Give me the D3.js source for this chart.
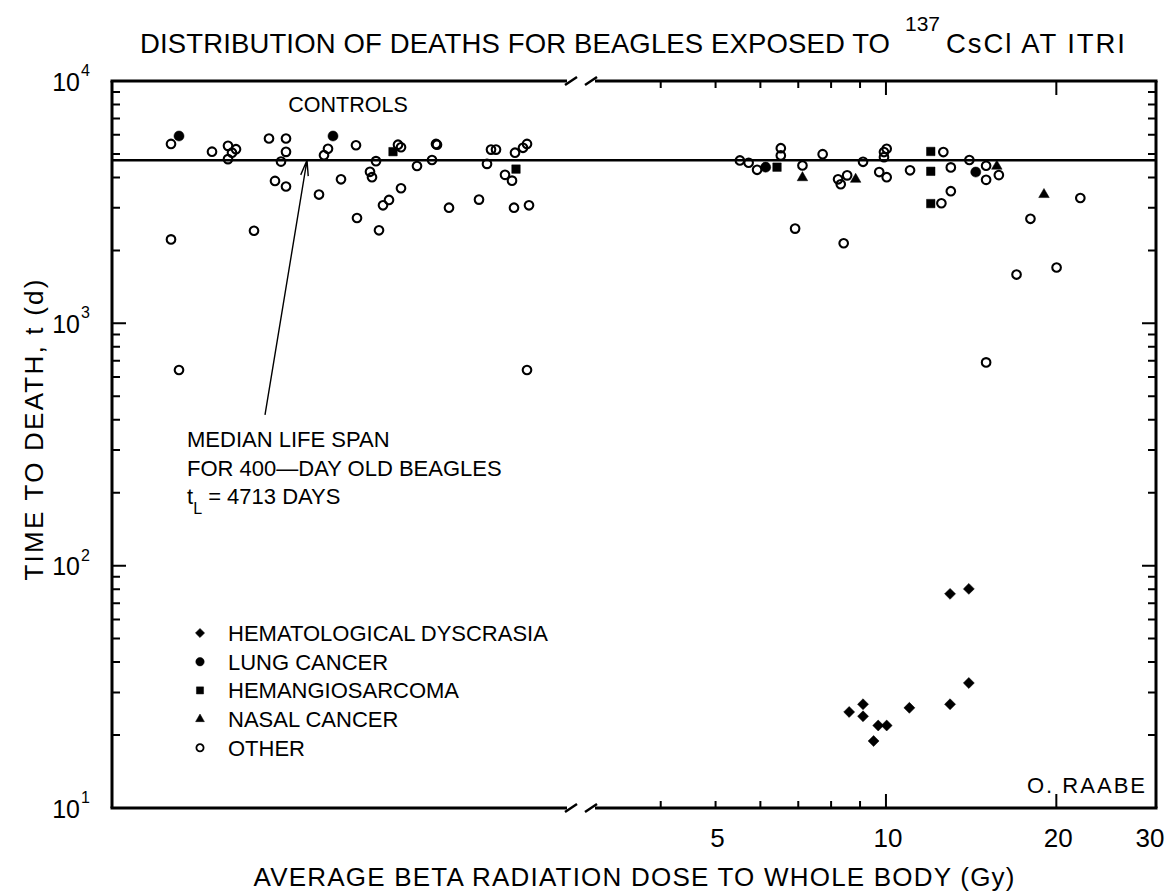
<!DOCTYPE html>
<html>
<head>
<meta charset="utf-8">
<script src="https://cdn.jsdelivr.net/npm/d3@7"></script>
<style>
  body { margin: 0; background: #fff; }
  svg { display: block; font-family: "Liberation Sans", Arial, sans-serif; }
</style>
</head>
<body>
<div class="canvas"></div>
<script>
// controls have no dose: first value is only a spread position along the left panel, second is days to death
const controlOther = [[5.9,5500],[5.9,2220],[6.7,642],[10.0,5110],[11.6,5400],[11.6,4760],[12.0,5060],[12.4,5230],
  [14.2,2410],[15.7,5790],[16.3,3870],[16.9,4650],[17.4,5790],[17.4,5100],[17.4,3670],[20.7,3400],[21.2,4940],
  [21.6,5250],[22.9,3930],[24.4,5430],[24.5,2720],[25.8,4220],[26.0,4010],[26.4,4670],[26.7,2420],[27.1,3070],
  [27.7,3230],[28.6,5460],[28.9,5330],[28.9,3610],[30.5,4460],[32.0,4720],[32.4,5500],[32.5,5460],[33.7,3000],
  [36.7,3240],[37.5,4550],[37.9,5210],[38.4,5210],[39.3,4100],[40.0,3880],[40.2,3000],[40.3,5060],[41.1,5300],
  [41.5,5500],[41.7,3070],[41.5,642]];
const controlLung = [[6.7,5930],[22.1,5930]];
const controlHemangio = [[28.1,5110],[40.4,4330]];

// exposed dogs: dose (Gy), days to death
const doseOther = [[5.52,4700],[5.72,4600],[5.92,4300],[6.52,5280],[6.52,4930],[7.12,4480],[7.73,4990],[6.91,2460],
  [8.23,3930],[8.32,3750],[8.54,4080],[8.42,2140],[9.11,4640],[9.73,4210],[10.03,4010],[9.92,5090],[10.03,5250],
  [9.92,4850],[11.03,4280],[12.63,5090],[13.02,4400],[14.04,4720],[15.03,4470],[15.03,3910],[15.83,4090],
  [13.02,3510],[12.53,3130],[22.05,3290],[18.0,2700],[17.01,1590],[20.02,1700],[15.03,690]];
const doseLung = [[6.13,4410],[14.41,4210]];
const doseHemangio = [[6.42,4410],[12.0,5120],[12.0,4240],[12.0,3120]];
const doseNasal = [[7.12,3990],[8.84,3930],[15.7,4450],[19.02,3400]];
const doseHemato = [[12.98,76.5],[14.01,80.2],[14.01,32.8],[12.98,26.8],[8.61,24.9],[9.11,26.8],[9.11,23.9],
  [9.69,21.9],[10.03,21.9],[9.51,18.9],[11.0,25.9]];

const medianLife = 4713;
const yDecades = [10, 100, 1000, 10000];
const yExponents = ['1', '2', '3', '4'];
const xMinor = [4, 5, 6, 7, 8, 9];
const xMajor = [10, 20];
const xTickLabels = [5, 10, 20, 30];
const legendNames = ['HEMATOLOGICAL DYSCRASIA', 'LUNG CANCER', 'HEMANGIOSARCOMA', 'NASAL CANCER', 'OTHER'];
const legendKinds = ['diamond', 'dot', 'square', 'triangle', 'open'];

const W = 1172, H = 895;
const L = 112, R = 1156, T = 81, B = 808;

const svg = d3.select('.canvas').append('svg')
  .attr('width', W)
  .attr('height', H);

svg.append('rect').attr('width', W).attr('height', H).attr('fill', '#fff');

const y = d3.scaleLog().domain([10, 10000]).range([B, T]);
const xc = d3.scaleLinear().domain([0, 46]).range([L, 572]);
const xd = d3.scaleLog().domain([3, 30]).range([590, R]);

// frame with the axis break
const frame = svg.append('g').attr('stroke', '#000').attr('stroke-width', 3).attr('fill', 'none');
frame.append('path').attr('d', `M${L},${T}V${B}M${R},${T}V${B}`);
[T, B].forEach(yy => {
  frame.append('path').attr('d', `M${L - 1.5},${yy}H567M595,${yy}H${R + 1.5}`);
  [571, 591].forEach(bx => {
    frame.append('path').attr('d', `M${bx - 6},${yy + 4}L${bx + 6},${yy - 4}`).attr('stroke-width', 2.5);
  });
});

// y ticks, inside on both sides
const yMinorVals = [];
[10, 100, 1000].forEach(d => { for (let m = 2; m <= 9; m++) yMinorVals.push(d * m); });
const tickG = svg.append('g').attr('stroke', '#000').attr('stroke-width', 2);
tickG.selectAll('.ym').data(yMinorVals).enter().append('path')
  .attr('d', v => `M${L},${y(v)}h8M${R},${y(v)}h-8`);
tickG.selectAll('.yM').data([100, 1000]).enter().append('path')
  .attr('d', v => `M${L},${y(v)}h14M${R},${y(v)}h-14`);

// x ticks on the dose part, top and bottom
tickG.selectAll('.xm').data(xMinor).enter().append('path')
  .attr('d', v => `M${xd(v)},${B}v-7M${xd(v)},${T}v7`);
tickG.selectAll('.xM').data(xMajor).enter().append('path')
  .attr('d', v => `M${xd(v)},${B}v-14M${xd(v)},${T}v14`);

// y tick labels 10^n
const yl = svg.append('g').attr('fill', '#000');
yl.selectAll('.t10').data(yDecades).enter().append('text')
  .attr('x', 80).attr('y', v => y(v) + 9.5)
  .attr('text-anchor', 'end').style('font-size', '25px').text('10');
yl.selectAll('.tex').data(yDecades).enter().append('text')
  .attr('x', 81).attr('y', (v) => y(v) - 5)
  .style('font-size', '16px').text((v, i) => yExponents[i]);

// x tick labels
svg.append('g').selectAll('text').data(xTickLabels).enter().append('text')
  .attr('x', v => v === 30 ? xd(v) - 6 : xd(v) + 2)
  .attr('y', 847)
  .attr('text-anchor', 'middle')
  .style('font-size', '26px')
  .text(v => v);

// median life span line
svg.append('line')
  .attr('x1', L).attr('x2', R)
  .attr('y1', y(medianLife)).attr('y2', y(medianLife))
  .attr('stroke', '#000').attr('stroke-width', 2.5);

// markers
const sym = {
  diamond: { type: d3.symbolSquare, size: 60, rot: 45, fill: '#000' },
  dot: { type: d3.symbolCircle, size: 80, rot: 0, fill: '#000' },
  square: { type: d3.symbolSquare, size: 72, rot: 0, fill: '#000' },
  triangle: { type: d3.symbolTriangle, size: 48, rot: 0, fill: '#000' },
  open: { type: d3.symbolCircle, size: 58, rot: 0, fill: 'none' }
};

function plot(data, xs, kind) {
  const s = sym[kind];
  svg.append('g').selectAll('path').data(data).enter().append('path')
    .attr('transform', d => `translate(${xs(d[0])},${y(d[1])}) rotate(${s.rot})`)
    .attr('d', d3.symbol().type(s.type).size(s.size))
    .attr('fill', s.fill)
    .attr('stroke', '#000')
    .attr('stroke-width', kind === 'open' ? 2.1 : 0.5);
}

plot(controlOther, xc, 'open');
plot(controlLung, xc, 'dot');
plot(controlHemangio, xc, 'square');
plot(doseOther, xd, 'open');
plot(doseLung, xd, 'dot');
plot(doseHemangio, xd, 'square');
plot(doseNasal, xd, 'triangle');
plot(doseHemato, xd, 'diamond');

// legend
const lg = svg.append('g').selectAll('g').data(legendNames).enter().append('g')
  .attr('transform', (d, i) => `translate(200, ${633 + i * 28.7})`);
lg.append('path')
  .attr('d', (d, i) => d3.symbol().type(sym[legendKinds[i]].type).size(sym[legendKinds[i]].size * 0.7)())
  .attr('transform', (d, i) => `rotate(${sym[legendKinds[i]].rot})`)
  .attr('fill', (d, i) => sym[legendKinds[i]].fill)
  .attr('stroke', '#000')
  .attr('stroke-width', (d, i) => legendKinds[i] === 'open' ? 1.8 : 0.5);
lg.append('text')
  .attr('x', 28).attr('y', 8)
  .style('font-size', '22px')
  .text(d => d);

// texts
svg.append('text').attr('x', 140).attr('y', 53).style('font-size', '27.5px')
  .attr('textLength', 750).attr('lengthAdjust', 'spacing')
  .text('DISTRIBUTION OF DEATHS FOR BEAGLES EXPOSED TO');
svg.append('text').attr('x', 905).attr('y', 31).style('font-size', '21px').text('137');
svg.append('text').attr('x', 946).attr('y', 53).style('font-size', '27.5px')
  .attr('textLength', 179).attr('lengthAdjust', 'spacing').text('CsCl AT ITRI');

svg.append('text').attr('x', 348).attr('y', 112).attr('text-anchor', 'middle')
  .style('font-size', '21.5px').text('CONTROLS');

svg.append('text').attr('x', 1145).attr('y', 793).attr('text-anchor', 'end')
  .style('font-size', '22px').attr('textLength', 118).attr('lengthAdjust', 'spacing').text('O. RAABE');

svg.append('text').attr('x', 634).attr('y', 886).attr('text-anchor', 'middle')
  .style('font-size', '26px').attr('textLength', 761).attr('lengthAdjust', 'spacing')
  .text('AVERAGE BETA RADIATION DOSE TO WHOLE BODY (Gy)');

svg.append('text').attr('transform', 'translate(43, 430) rotate(-90)').attr('text-anchor', 'middle')
  .style('font-size', '26px').attr('textLength', 301).attr('lengthAdjust', 'spacing')
  .text('TIME TO DEATH, t (d)');

// annotation
const note = svg.append('g').style('font-size', '22px');
note.append('text').attr('x', 187).attr('y', 447).text('MEDIAN LIFE SPAN');
note.append('text').attr('x', 187).attr('y', 476).text('FOR 400\u2014DAY OLD BEAGLES');
const t3 = note.append('text').attr('x', 187).attr('y', 504);
t3.append('tspan').text('t');
t3.append('tspan').attr('dy', 10).style('font-size', '16px').text('L');
t3.append('tspan').attr('dy', -10).text(' = 4713 DAYS');

// arrow from the note to the median line
const tail = [xc(15.3), y(419)];
const tip = [xc(19.5), y(medianLife)];
const ang = Math.atan2(tail[1] - tip[1], tail[0] - tip[0]);
const arm = a => [tip[0] + 16 * Math.cos(ang + a), tip[1] + 16 * Math.sin(ang + a)];
svg.append('path')
  .attr('d', `M${tail}L${tip}M${arm(0.24)}L${tip}L${arm(-0.24)}`)
  .attr('fill', 'none').attr('stroke', '#000').attr('stroke-width', 1.4);
</script>
</body>
</html>
